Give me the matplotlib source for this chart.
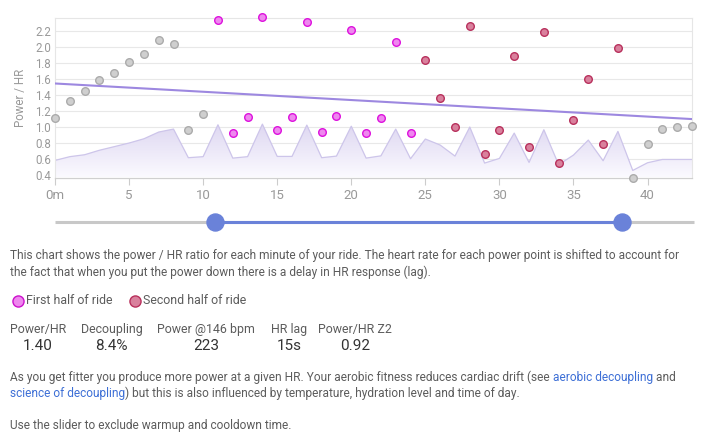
import numpy as np
import matplotlib
matplotlib.use("Agg")
import matplotlib.pyplot as plt
from matplotlib.lines import Line2D
from matplotlib.colors import LinearSegmentedColormap

plt.rcParams['font.family'] = ['Roboto', 'DejaVu Sans']

# power / HR ratio for each minute of the ride
minutes = np.arange(44)
ratio = [1.11, 1.33, 1.45, 1.585, 1.68, 1.81, 1.91, 2.09, 2.04, 0.966, 1.157,
         2.33, 0.924, 1.12, 2.37, 0.966, 1.124, 2.316, 0.932, 1.132, 2.215,
         0.92, 1.107, 2.055, 0.92,
         1.83, 1.36, 1.003, 2.254, 0.666, 0.966, 1.888, 0.745, 2.183, 0.546,
         1.09, 1.593, 0.791, 1.98,
         0.359, 0.79, 0.978, 1.003, 1.007]
# background profile (shaded area)
profile = [0.583, 0.63, 0.654, 0.71, 0.755, 0.80, 0.853, 0.937, 0.974, 0.617,
           0.63, 1.028, 0.612, 0.63, 1.036, 0.633, 0.633, 1.024, 0.617, 0.637,
           1.01, 0.612, 0.64, 0.974, 0.604, 0.85, 0.775, 0.637, 1.0, 0.55,
           0.608, 0.924, 0.558, 0.966, 0.529, 0.65, 0.837, 0.579, 0.945, 0.458,
           0.554, 0.595, 0.595, 0.595]
first_half = (11, 24)
second_half = (25, 38)
trend_start, trend_end = 1.543, 1.099
slider_lo, slider_hi = 10.8, 38.3

x_ticks = [0, 5, 10, 15, 20, 25, 30, 35, 40]
x_labels = ['0m', '5', '10', '15', '20', '25', '30', '35', '40']
y_ticks = [0.4, 0.6, 0.8, 1.0, 1.2, 1.4, 1.6, 1.8, 2.0, 2.2]

stat_names = ['Power/HR', 'Decoupling', 'Power @146 bpm', 'HR lag', 'Power/HR Z2']
stat_values = ['1.40', '8.4%', '223', '15s', '0.92']
stat_x = [10, 81, 157, 271, 318]

W, H = 703, 437
fig = plt.figure(figsize=(W / 100, H / 100), dpi=100)


def fx(x):
    return x / W


def fy(y):
    return 1 - y / H


ax = fig.add_axes([fx(55), fy(177.5), fx(692) - fx(55), fy(18) - fy(177.5)])
ax.set_xlim(0, 43)
ax.set_ylim(0.37, 2.36)

ratio = np.array(ratio)
profile = np.array(profile)

# shaded profile with vertical gradient
poly = ax.fill_between(minutes, profile, 0.37, color='none', lw=0)
grad = np.linspace(0, 1, 256).reshape(-1, 1)
cmap = LinearSegmentedColormap.from_list('g', ['#fbfaff', '#ddd6f1'])
img = ax.imshow(grad, extent=[0, 43, 0.37, 1.05], origin='lower', aspect='auto',
                cmap=cmap, zorder=1)
img.set_clip_path(poly.get_paths()[0], transform=ax.transData)
ax.plot(minutes, profile, color='#cdc5ea', lw=0.9, zorder=2)

ax.set_yticks(y_ticks)
ax.set_yticklabels([f'{v:.1f}' for v in y_ticks])
ax.grid(axis='y', color='#e8e8e8', lw=0.8, zorder=0)
ax.set_axisbelow(True)
ax.set_xticks(x_ticks)
ax.set_xticklabels(x_labels)
ax.tick_params(axis='x', colors='#cccccc', labelcolor='#999999', labelsize=9.5,
               length=5, width=0.8, pad=3)
ax.tick_params(axis='y', length=0, labelcolor='#999999', labelsize=8.3, pad=3)
for s in ['top', 'left', 'right']:
    ax.spines[s].set_color('#e6e6e6')
    ax.spines[s].set_linewidth(0.8)
ax.spines['bottom'].set_color('#d0d0d0')
ax.spines['bottom'].set_linewidth(0.9)
ax.set_ylabel('Power / HR', color='#999999', fontsize=8.3, labelpad=6)

# trend line
ax.plot([0, 43], [trend_start, trend_end], color='#9d88e0', lw=1.5, zorder=3)

first = (minutes >= first_half[0]) & (minutes <= first_half[1])
second = (minutes >= second_half[0]) & (minutes <= second_half[1])
rest = ~(first | second)
ax.scatter(minutes[rest], ratio[rest], s=30, color='#cfcfcf', edgecolor='#ababab',
           lw=1.0, zorder=4, clip_on=False)
ax.scatter(minutes[first], ratio[first], s=30, color='#ee88ee', edgecolor='#dd11dd',
           lw=1.0, zorder=4, clip_on=False)
ax.scatter(minutes[second], ratio[second], s=30, color='#d9819d', edgecolor='#b8305c',
           lw=1.0, zorder=4, clip_on=False)

# slider
sax = fig.add_axes([fx(55), fy(232), fx(692) - fx(55), fy(212) - fy(232)])
sax.set_xlim(0, 43)
sax.set_ylim(-1, 1)
sax.axis('off')
sax.plot([0, 43.15], [0, 0], color='#c8c8c8', lw=2.2, solid_capstyle='butt', clip_on=False)
sax.plot([slider_lo, slider_hi], [0, 0], color='#6a82d9', lw=2.2, clip_on=False)
sax.scatter([slider_lo, slider_hi], [0, 0], s=150, color='#6a82d9', zorder=3, clip_on=False)

txt = '#5c5c5c'
fs = 8.9
fl = 8.55  # long lines
fig.text(fx(10), fy(255), 'This chart shows the power / HR ratio for each minute of your ride. '
         'The heart rate for each power point is shifted to account for',
         color=txt, fontsize=fl, va='center')
fig.text(fx(10), fy(272), 'the fact that when you put the power down there is a delay in HR '
         'response (lag).', color=txt, fontsize=fl, va='center')

# legend
fig.add_artist(Line2D([fx(18)], [fy(301)], marker='o', ms=8, mfc='#ee88ee', mec='#cc11cc',
                      mew=1.0, transform=fig.transFigure))
fig.text(fx(26), fy(301), 'First half of ride', color=txt, fontsize=fs, va='center')
fig.add_artist(Line2D([fx(135)], [fy(301)], marker='o', ms=8, mfc='#d9819d', mec='#b8305c',
                      mew=1.0, transform=fig.transFigure))
fig.text(fx(143), fy(301), 'Second half of ride', color=txt, fontsize=fs, va='center')

# stats
for name, val, x in zip(stat_names, stat_values, stat_x):
    t = fig.text(fx(x), fy(330), name, color=txt, fontsize=fs, va='center')
    ax.annotate(val, xy=(0.5, 0), xycoords=t, xytext=(0, -1.5), textcoords='offset points',
                ha='center', va='top', color='#333333', fontsize=11,
                annotation_clip=False)

link = '#3d6fd6'
p1 = fig.text(fx(10), fy(377), 'As you get fitter you produce more power at a given HR. '
              'Your aerobic fitness reduces cardiac drift (see ', color=txt, fontsize=fl,
              va='center')
p2 = ax.annotate('aerobic decoupling', xy=(1, 0), xycoords=p1, ha='left', va='bottom',
                 color=link, fontsize=fl, annotation_clip=False)
ax.annotate(' and', xy=(1, 0), xycoords=p2, ha='left', va='bottom',
            color=txt, fontsize=fl, annotation_clip=False)
q1 = fig.text(fx(10), fy(394), 'science of decoupling', color=link, fontsize=fl, va='center')
ax.annotate(') but this is also influenced by temperature, hydration level and time of day.',
            xy=(1, 0), xycoords=q1, ha='left', va='bottom', color=txt, fontsize=fl,
            annotation_clip=False)
fig.text(fx(10), fy(426), 'Use the slider to exclude warmup and cooldown time.',
         color=txt, fontsize=fl, va='center')

fig.savefig('out.png', dpi=100, facecolor='white')
